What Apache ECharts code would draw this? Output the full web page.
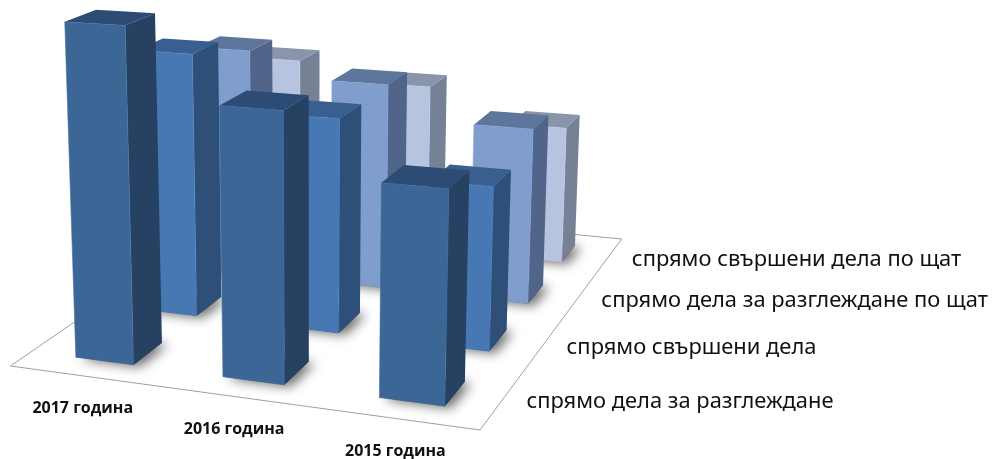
<!DOCTYPE html>
<html><head><meta charset="utf-8">
<style>html,body{margin:0;padding:0;background:#fff}#c{width:993px;height:459px}</style>
<script src="https://cdn.jsdelivr.net/npm/echarts@6/dist/echarts.min.js"></script>
</head><body><div id="c"></div>
<script>
const years = ['2017 година','2016 година','2015 година'];
const measures = ['спрямо дела за разглеждане','спрямо свършени дела','спрямо дела за разглеждане по щат','спрямо свършени дела по щат'];
const casesForReview   = [99.5, 78.9, 61.2];
const casesCompleted   = [82.6, 66.3, 49.9];
const reviewPerStaff   = [74.8, 66.9, 56.2];
const completedPerStaff= [62.5, 56.6, 46];
const seriesValues = [casesForReview, casesCompleted, reviewPerStaff, completedPerStaff];

const palette = [
  {front:'#3c6695',side:'#264162',top:'#2c4c75',edge:'#44709f'},
  {front:'#4878b4',side:'#2e4f78',top:'#385f90',edge:'#5080bc'},
  {front:'#7f9dcd',side:'#51648a',top:'#5f769c',edge:'#88a5d3'},
  {front:'#b7c4e0',side:'#778196',top:'#8a94aa',edge:'#bfcbe5'}
];

// camera: floor square (u,v) + height -> picture plane
const floorA=[10.5,366],floorF=[480,430],floorR=[621.7,239],floorB=[247.5,202.8];
const VP=[313,7530],K=-0.000454;
const den=(floorF[0]-floorR[0])*(floorB[1]-floorR[1])-(floorB[0]-floorR[0])*(floorF[1]-floorR[1]);
const sx=floorA[0]-floorF[0]+floorR[0]-floorB[0],sy=floorA[1]-floorF[1]+floorR[1]-floorB[1];
const G=(sx*(floorB[1]-floorR[1])-(floorB[0]-floorR[0])*sy)/den;
const H=((floorF[0]-floorR[0])*sy-sx*(floorF[1]-floorR[1]))/den;
function project(u,v,h){
  const w=1+G*u+H*v;
  const X=(floorF[0]*(1+G)-floorA[0])*u+(floorB[0]*(1+H)-floorA[0])*v+floorA[0];
  const Y=(floorF[1]*(1+G)-floorA[1])*u+(floorB[1]*(1+H)-floorA[1])*v+floorA[1];
  const t=h*K;
  return [(X+t*VP[0])/(w+t),(Y+t*VP[1])/(w+t)];
}
const halfU=0.0667, halfV=0.054, shiftU=0.004;
const cellU=1/years.length, cellV=1/measures.length;

function corners(c,r,h){
  const u=(c+.5)*cellU+shiftU,v=(r+.5)*cellV;
  return {
    fl:project(u-halfU,v-halfV,h),fr:project(u+halfU,v-halfV,h),
    br:project(u+halfU,v+halfV,h),bl:project(u-halfU,v+halfV,h)
  };
}
// back rows first, left to right, so nearer bars paint over farther ones
const barData=[];
for(let r=measures.length-1;r>=0;r--)for(let c=0;c<years.length;c++)barData.push([c,r,seriesValues[r][c]]);

function poly(api,pts,style){
  return {type:'polygon',shape:{points:pts.map(p=>api.coord(p))},style};
}
const option={
  animation:false,backgroundColor:'#fff',
  grid:{left:0,right:0,top:0,bottom:0},
  xAxis:{type:'value',min:0,max:993,show:false},
  yAxis:{type:'value',min:0,max:459,inverse:true,show:false},
  series:[
  {type:'custom',coordinateSystem:'cartesian2d',silent:true,z:1,data:[[0]],
    renderItem:(p,api)=>poly(api,[project(0,0,0),project(1,0,0),project(1,1,0),project(0,1,0)],
      {fill:'none',stroke:'#a0a0a0',lineWidth:1})},
  {type:'custom',coordinateSystem:'cartesian2d',silent:true,z:2,data:barData,
    renderItem:(p,api)=>{
      const b=corners(api.value(0),api.value(1),0);
      return poly(api,[b.fl,b.fr,b.br,b.bl],{fill:'rgba(0,0,0,.7)',shadowBlur:12,shadowOffsetX:6,shadowOffsetY:2,shadowColor:'rgba(0,0,0,.85)'});
    }},
  {type:'custom',coordinateSystem:'cartesian2d',silent:true,z:3,data:barData,
    renderItem:(p,api)=>{
      const c=api.value(0),r=api.value(1),h=api.value(2);
      const b=corners(c,r,0),t=corners(c,r,h),col=palette[r];
      const e={stroke:col.edge,lineWidth:.6};
      return {type:'group',children:[
        poly(api,[b.fr,b.br,t.br,t.fr],{fill:col.side}),
        poly(api,[t.fl,t.fr,t.br,t.bl],{fill:col.top}),
        poly(api,[b.fl,b.fr,t.fr,t.fl],Object.assign({fill:col.front},e))
      ]};
    }},
  {type:'custom',coordinateSystem:'cartesian2d',silent:true,z:4,data:years.map((n,i)=>[i]),
    renderItem:(p,api)=>{
      const i=api.value(0),q=api.coord(project((i+.5)*cellU,0,0));
      return {type:'text',style:{text:years[i],x:q[0],y:q[1]+33,align:'center',verticalAlign:'middle',
        font:'bold 16px "Open Sans"',fill:'#111'}};
    }},
  {type:'custom',coordinateSystem:'cartesian2d',silent:true,z:4,data:measures.map((n,i)=>[i]),
    renderItem:(p,api)=>{
      const i=api.value(0),q=api.coord(project(1,(i+.5)*cellV,0));
      return {type:'text',style:{text:measures[i],x:q[0]+24,y:q[1]+2,align:'left',verticalAlign:'middle',
        font:'21.9px "Noto Sans"',fill:'#111'}};
    }}
  ]
};
echarts.init(document.getElementById('c'),null,{renderer:'canvas'}).setOption(option);
</script></body></html>
